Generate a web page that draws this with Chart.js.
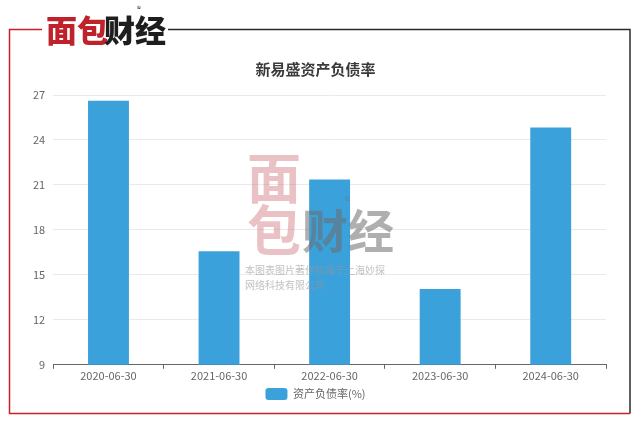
<!DOCTYPE html>
<html>
<head>
<meta charset="utf-8">
<script src="https://cdn.jsdelivr.net/npm/chart.js@4/dist/chart.umd.min.js"></script>
<style>
html,body{margin:0;padding:0;background:#fff;}
#wrap{width:640px;height:424px;position:relative;}
</style>
</head>
<body>
<div id="wrap"><canvas id="c" width="640" height="424"></canvas></div>
<script>
const categories = ['2020-06-30','2021-06-30','2022-06-30','2023-06-30','2024-06-30'];
const debtRatio = [26.62, 16.57, 21.36, 14.05, 24.84];
const seriesLabel = '资产负债率(%)';
const chartTitle = '新易盛资产负债率';
const yTicks = [9, 12, 15, 18, 21, 24, 27];

const FONT = "'Noto Sans CJK SC', 'Open Sans', sans-serif";

const decor = {
  id: 'decor',
  beforeDraw(chart) {
    const ctx = chart.ctx;
    ctx.save();
    ctx.fillStyle = '#fff';
    ctx.fillRect(0, 0, chart.width, chart.height);
    ctx.restore();
  },
  afterDatasetsDraw(chart) {
    const ctx = chart.ctx;
    ctx.save();
    // watermark
    ctx.textBaseline = 'middle';
    ctx.textAlign = 'center';
    ctx.fillStyle = 'rgba(205,110,120,0.42)';
    ctx.font = "bold 54px 'Noto Sans CJK SC'";
    ctx.fillText('面', 274, 178);
    ctx.fillText('包', 274, 230);
    ctx.fillStyle = 'rgba(110,110,110,0.55)';
    ctx.font = "bold 46px 'Noto Sans CJK SC'";
    ctx.textAlign = 'left';
    ctx.fillText('财经', 302, 231);
    ctx.font = "11px 'Noto Sans CJK SC'";
    ctx.fillText('®', 345, 201);
    ctx.fillStyle = 'rgba(150,150,150,0.6)';
    ctx.font = "10px 'Noto Sans CJK SC'";
    ctx.fillText('本图表图片著作权属于上海妙探', 245, 270);
    ctx.fillText('网络科技有限公司', 245, 285);
    ctx.restore();
  },
  afterDraw(chart) {
    const ctx = chart.ctx;
    ctx.save();
    // frame
    ctx.lineWidth = 1.5;
    ctx.strokeStyle = '#2b2b2b';
    ctx.beginPath();
    ctx.moveTo(168, 29.5);
    ctx.lineTo(630, 29.5);
    ctx.lineTo(630, 413.5);
    ctx.stroke();
    ctx.strokeStyle = '#c8202c';
    ctx.beginPath();
    ctx.moveTo(42, 29.5);
    ctx.lineTo(9.5, 29.5);
    ctx.lineTo(9.5, 413.5);
    ctx.lineTo(630, 413.5);
    ctx.stroke();
    // logo
    ctx.textBaseline = 'middle';
    ctx.textAlign = 'left';
    ctx.font = "900 31px 'Noto Sans CJK SC'";
    ctx.fillStyle = '#c0222c';
    ctx.fillText('面包', 46, 30);
    ctx.fillStyle = '#1e1e1e';
    ctx.fillText('财经', 104, 30);
    ctx.font = "8px 'Noto Sans CJK SC'";
    ctx.fillText('®', 137, 9);
    ctx.restore();
  }
};

new Chart(document.getElementById('c'), {
  type: 'bar',
  data: {
    labels: categories,
    datasets: [{
      label: seriesLabel,
      data: debtRatio,
      backgroundColor: '#3ba1db',
      borderWidth: 0,
      categoryPercentage: 1,
      barPercentage: 0.37
    }]
  },
  options: {
    responsive: false,
    animation: false,
    devicePixelRatio: 1,
    layout: { padding: { left: 25, right: 34, top: 60, bottom: 14 } },
    plugins: {
      title: {
        display: true,
        text: chartTitle,
        color: '#3a3a3a',
        font: { family: FONT, size: 15, weight: 'bold' },
        padding: { top: 0, bottom: 17 }
      },
      legend: {
        display: true,
        position: 'bottom',
        labels: {
          color: '#666',
          font: { family: FONT, size: 11 },
          boxWidth: 22,
          boxHeight: 12,
          useBorderRadius: true,
          borderRadius: 3,
          padding: 6
        }
      },
      tooltip: { enabled: false }
    },
    scales: {
      x: {
        offset: true,
        grid: {
          display: true,
          offset: true,
          drawOnChartArea: false,
          drawTicks: true,
          tickLength: 4,
          color: '#666'
        },
        border: { display: true, color: '#666', width: 1 },
        ticks: { color: '#666', font: { family: FONT, size: 11 }, padding: 0, maxRotation: 0 }
      },
      y: {
        min: 9,
        max: 27,
        afterBuildTicks(axis) { axis.ticks = yTicks.map(v => ({ value: v })); },
        grid: { color: '#e9e9ee', drawTicks: false },
        border: { display: false },
        ticks: { color: '#666', font: { family: FONT, size: 11 }, padding: 8 }
      }
    }
  },
  plugins: [decor]
});
</script>
</body>
</html>
